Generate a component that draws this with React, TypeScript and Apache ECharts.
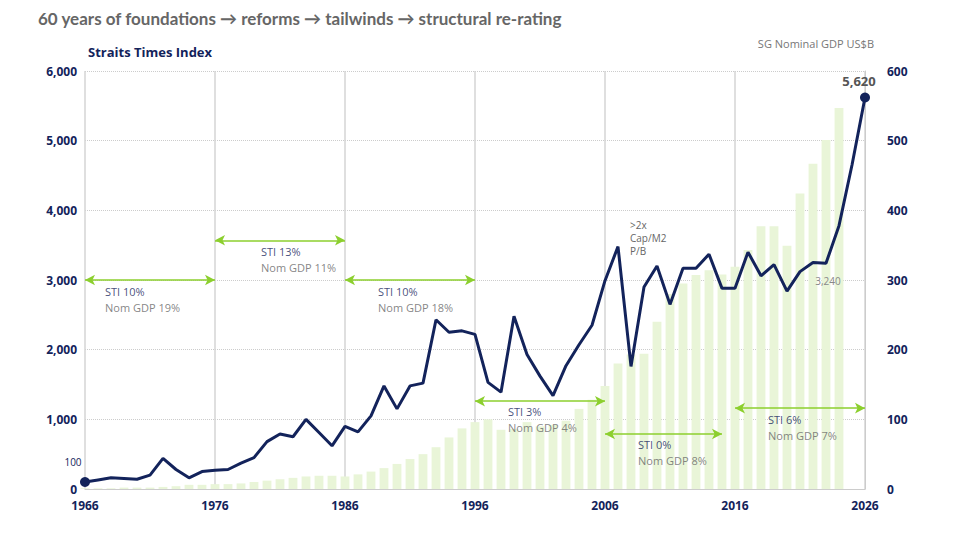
import React, { useEffect, useRef } from "react";
import * as echarts from "echarts";

const years: string[] = [];
for (let y = 1966; y <= 2026; y++) years.push(String(y));

const sti = [100, 130, 160, 150, 140, 200, 440, 280, 160, 250, 270, 280, 370, 450, 680, 790, 750, 1000, 810, 620,
  900, 820, 1050, 1480, 1150, 1480, 1520, 2430, 2250, 2270, 2220, 1530, 1390, 2480, 1930, 1620, 1340, 1770, 2070, 2350,
  2990, 3480, 1760, 2900, 3200, 2650, 3170, 3170, 3370, 2880, 2880, 3400, 3060, 3220, 2840, 3120, 3250, 3240, 3780, 4650, 5620];

const gdp = [1, 1, 1, 2, 2, 2, 3, 4, 6, 6, 7, 7, 8, 10, 12, 14, 16, 18, 19, 19,
  18, 21, 25, 30, 36, 43, 50, 60, 74, 87, 96, 100, 85, 86, 96, 90, 92, 98, 115, 128,
  148, 180, 193, 194, 240, 280, 295, 307, 314, 308, 319, 343, 377, 377, 349, 424, 467, 501, 547, null, null];

const arrows: [string, string, number][] = [
  ["1966", "1976", 3000], ["1976", "1986", 3570], ["1986", "1996", 3000],
  ["1996", "2006", 1260], ["2006", "2015", 790], ["2016", "2026", 1160],
];
const periodStats: [string, number, string, string][] = [
  ["1967", 2720, "STI 10%", "Nom GDP 19%"],
  ["1979", 3300, "STI 13%", "Nom GDP 11%"],
  ["1988", 2720, "STI 10%", "Nom GDP 18%"],
  ["1998", 1000, "STI 3%", "Nom GDP 4%"],
  ["2008", 520, "STI 0%", "Nom GDP 8%"],
  ["2018", 880, "STI 6%", "Nom GDP 7%"],
];

const navy = "#13235b";
const green = "#8ccf2e";

export default function App() {
  const ref = useRef<HTMLDivElement>(null);
  useEffect(() => {
    const chart = echarts.init(ref.current!, null, { renderer: "svg" });
    const font = "'Open Sans', 'Noto Sans', sans-serif";
    chart.setOption({
      animation: false,
      textStyle: { fontFamily: font },
      grid: { left: 85, right: 93, top: 71, bottom: 47 },
      graphic: [
        { type: "text", left: 38, top: 10, style: { text: "60 years of foundations → reforms → tailwinds → structural re-rating", fill: "#666", font: `bold 17px Lato, 'DejaVu Sans', sans-serif` } },
        { type: "text", left: 88, top: 45, style: { text: "Straits Times Index", fill: navy, font: `bold 13px ${font}` } },
        { type: "text", right: 84, top: 38, style: { text: "SG Nominal GDP US$B", fill: "#777", font: `11px ${font}` } },
        { type: "text", left: 630, top: 218, style: { text: ">2x\nCap/M2\nP/B", fill: "#666", font: `10px ${font}`, lineHeight: 13 } },
      ],
      xAxis: {
        type: "category", data: years, boundaryGap: false,
        axisLine: { lineStyle: { color: "#ccc" } }, axisTick: { show: false },
        axisLabel: { interval: 9, color: navy, fontWeight: "bold", fontSize: 12, margin: 10 },
        splitLine: { show: true, interval: 9, lineStyle: { color: "#d5d5d5", width: 1.5 } },
      },
      yAxis: [
        { type: "value", min: 0, max: 6000, interval: 1000,
          axisLabel: { color: navy, fontWeight: "bold", fontSize: 12, formatter: (v: number) => v.toLocaleString("en-US") },
          axisLine: { show: false }, axisTick: { show: false },
          splitLine: { lineStyle: { color: "#ccc", type: "dotted" } } },
        { type: "value", min: 0, max: 600, interval: 100,
          axisLabel: { color: navy, fontWeight: "bold", fontSize: 12, margin: 22 },
          axisLine: { show: true, lineStyle: { color: "#ccc" } }, axisTick: { show: false }, splitLine: { show: false } },
      ],
      series: [
        { type: "bar", yAxisIndex: 1, data: gdp, barWidth: "68%", itemStyle: { color: "#e9f5d8" }, z: 1 },
        { type: "line", data: sti, yAxisIndex: 0, symbol: "none", lineStyle: { color: navy, width: 3 }, z: 5,
          markPoint: {
            symbol: "circle", symbolSize: 10, itemStyle: { color: navy },
            data: [
              { coord: ["1966", 100], label: { show: true, formatter: "100", position: "top", offset: [-12, -5], color: navy, fontSize: 10 } },
              { coord: ["2026", 5620], label: { show: true, formatter: "5,620", position: "top", offset: [-6, 0], color: "#555", fontSize: 13, fontWeight: "bold" } },
              { coord: ["2023", 3240], symbolSize: 0, label: { show: true, formatter: "3,240", position: "bottom", offset: [2, 8], color: "#888", fontSize: 10 } },
            ],
          },
          markLine: {
            silent: true, symbol: ["arrow", "arrow"], symbolSize: [8, 10],
            lineStyle: { color: green, type: "solid", width: 1.5 }, label: { show: false },
            data: arrows.map(([a, b, v]) => [{ coord: [a, v] }, { coord: [b, v] }]),
          },
        },
        { type: "scatter", data: periodStats.map(([x, v, s, g]) => ({ value: [x, v], s, g })), symbolSize: 0, z: 6,
          label: { show: true, position: "right", distance: 7, align: "left", lineHeight: 16,
            formatter: (p: any) => `{a|${p.data.s}}\n{b|${p.data.g}}`,
            rich: { a: { color: navy, fontSize: 11 }, b: { color: "#666", fontSize: 11 } } } },
      ],
    });
    return () => chart.dispose();
  }, []);
  return <div ref={ref} style={{ position: "fixed", left: 0, top: 0, width: 958, height: 536, background: "#fff" }} />;
}
